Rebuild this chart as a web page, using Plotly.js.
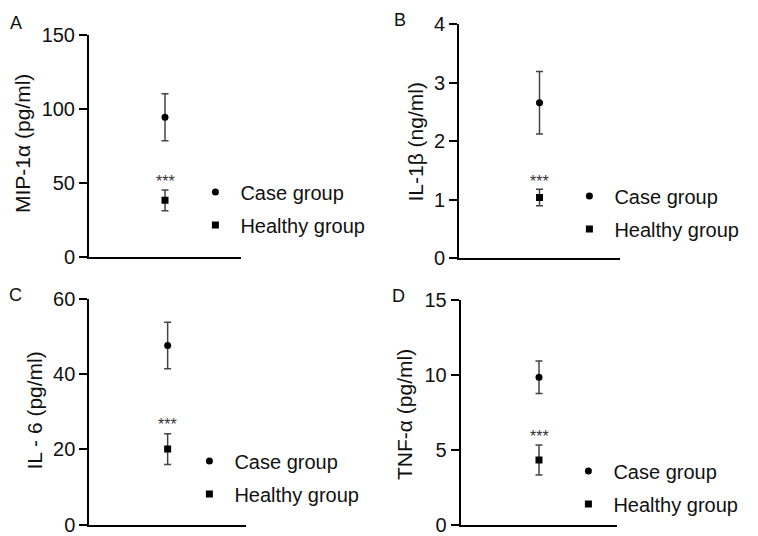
<!DOCTYPE html>
<html>
<head>
<meta charset="utf-8">
<script src="https://cdn.plot.ly/plotly-3.0.1.min.js"></script>
<style>html,body{margin:0;padding:0;background:#fff;}#chart{width:758px;height:536px;}</style>
</head>
<body>
<div id="chart"></div>
<script>
// ---- data ----
const groups = ['Case group', 'Healthy group'];
const panelLetters = ['A', 'B', 'C', 'D'];
const yTitles = ['MIP-1α (pg/ml)', 'IL-1β (ng/ml)', 'IL - 6 (pg/ml)', 'TNF-α (pg/ml)'];
const mipMean = [94.2, 38.2];   const mipSD = [15.8, 7.0];
const il1bMean = [2.66, 1.04];  const il1bSD = [0.535, 0.14];
const il6Mean = [47.7, 20.1];   const il6SD = [6.2, 4.1];
const tnfMean = [9.84, 4.31];   const tnfSD = [1.08, 1.0];
const starLevel = [50.8, 1.31, 26.7, 5.89];
const yMax = [150, 4, 60, 15];
const yStep = [50, 1, 20, 5];
const sigLabel = '***';

const means = [mipMean, il1bMean, il6Mean, tnfMean];
const sds = [mipSD, il1bSD, il6SD, tnfSD];

// ---- geometry (px) ----
const W = 758, H = 536;
const boxes = [
  {xl: 89, xr: 241, yt: 34.5, yb: 257, lx: 215.7, ly: 192.7, labx: 15.5, laby: 23, tx: 22, ty: 144},
  {xl: 459, xr: 620, yt: 24.3, yb: 258.3, lx: 589.7, ly: 196.7, labx: 400, laby: 20, tx: 414.5, ty: 142},
  {xl: 89.3, xr: 246, yt: 299.3, yb: 524.5, lx: 209.7, ly: 461.7, labx: 15.5, laby: 294.5, tx: 33.5, ty: 411},
  {xl: 460.7, xr: 617.3, yt: 300, yb: 524.5, lx: 588.7, ly: 471.7, labx: 398.5, laby: 296, tx: 404, ty: 415}
];
const FONT = '"Liberation Sans", Arial, sans-serif';
const symbols = ['circle', 'square'];
const groupKeys = ['case', 'healthy'];

const traces = [];
const layout = {
  width: W, height: H,
  margin: {l: 0, r: 0, t: 0, b: 0},
  paper_bgcolor: '#ffffff', plot_bgcolor: '#ffffff',
  font: {family: FONT, color: '#111'},
  annotations: [],
  showlegend: true
};

boxes.forEach((b, i) => {
  const n = i + 1;
  const xa = n === 1 ? 'x' : 'x' + n;
  const ya = n === 1 ? 'y' : 'y' + n;
  const lg = n === 1 ? 'legend' : 'legend' + n;
  groups.forEach((g, k) => {
    traces.push({
      type: 'scatter', mode: 'markers',
      x: [1], y: [means[i][k]],
      name: g,
      xaxis: xa, yaxis: ya, legend: lg, legendgroup: groupKeys[k] + n,
      marker: {symbol: symbols[k], size: 7, color: '#000'},
      error_y: {type: 'data', array: [sds[i][k]], visible: true, color: '#444', thickness: 1.5, width: 3.5}
    });
  });
  const xKey = n === 1 ? 'xaxis' : 'xaxis' + n;
  const yKey = n === 1 ? 'yaxis' : 'yaxis' + n;
  layout[xKey] = {
    domain: [b.xl / W, b.xr / W], anchor: ya,
    range: [0, 2], showline: true, linecolor: '#000', linewidth: 2,
    showticklabels: false, ticks: '', showgrid: false, zeroline: false, fixedrange: true
  };
  layout[yKey] = {
    domain: [1 - b.yb / H, 1 - b.yt / H], anchor: xa,
    range: [0, yMax[i]], dtick: yStep[i], tick0: 0,
    showline: true, linecolor: '#000', linewidth: 2,
    ticks: 'outside', ticklen: 8, tickwidth: 2, tickcolor: '#000',
    tickfont: {family: FONT, size: 20, color: '#111'},
    ticklabeloverflow: 'allow',
    showgrid: false, zeroline: false, fixedrange: true
  };
  layout[lg] = {
    x: (b.lx - 25.3) / W, y: 1 - (b.ly - 20.3) / H,
    xanchor: 'left', yanchor: 'top',
    bgcolor: 'rgba(0,0,0,0)', borderwidth: 0,
    tracegroupgap: 4, itemwidth: 40,
    font: {family: FONT, size: 20, color: '#111'}
  };
  // y-axis title (rotated)
  layout.annotations.push({
    xref: 'paper', yref: 'paper', x: b.tx / W, y: 1 - b.ty / H,
    text: yTitles[i], textangle: -90, showarrow: false,
    xanchor: 'center', yanchor: 'middle',
    font: {family: FONT, size: 21, color: '#111'}
  });
  layout.annotations.push({
    xref: xa, yref: ya, x: 1, y: starLevel[i], text: sigLabel,
    showarrow: false, font: {family: FONT, size: 16, color: '#333'}, yanchor: 'middle'
  });
  layout.annotations.push({
    xref: 'paper', yref: 'paper', x: b.labx / W, y: 1 - b.laby / H,
    text: panelLetters[i], showarrow: false, xanchor: 'center', yanchor: 'middle',
    font: {family: FONT, size: 18, color: '#111'}
  });
});

Plotly.newPlot('chart', traces, layout, {displayModeBar: false, staticPlot: true});
</script>
</body>
</html>
